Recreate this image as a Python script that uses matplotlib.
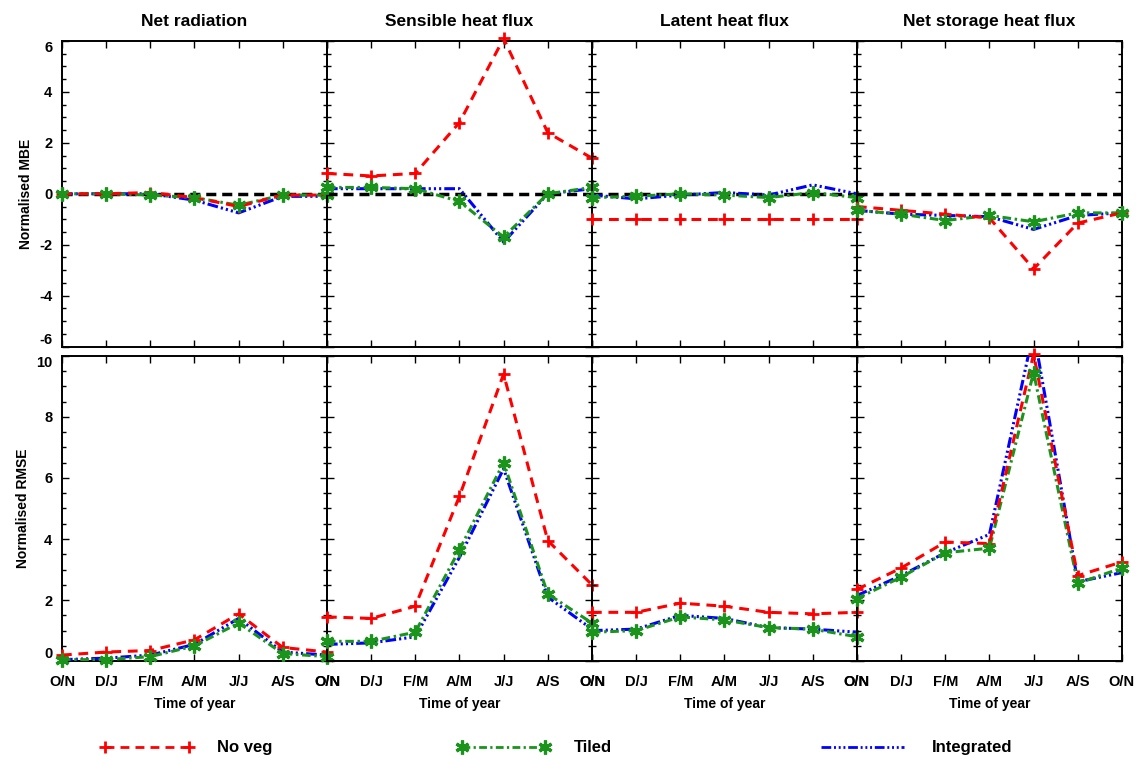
import numpy as np
import matplotlib
matplotlib.use('Agg')
import matplotlib.pyplot as plt
from matplotlib.ticker import MultipleLocator, FixedLocator
from matplotlib.lines import Line2D

plt.rcParams['font.family'] = ['Liberation Sans', 'DejaVu Sans']
plt.rcParams['font.weight'] = 'bold'
plt.rcParams['axes.unicode_minus'] = False

months = ['O/N', 'D/J', 'F/M', 'A/M', 'J/J', 'A/S', 'O/N']
titles = ['Net radiation', 'Sensible heat flux', 'Latent heat flux', 'Net storage heat flux']
series_names = ['No veg', 'Tiled', 'Integrated']

# normalised MBE, one list per panel
noveg_mbe = [
    [0.0, 0.0, 0.05, -0.15, -0.5, -0.05, -0.05],
    [0.8, 0.7, 0.8, 2.8, 6.1, 2.4, 1.4],
    [-1.0, -1.0, -1.0, -1.0, -1.0, -1.0, -1.0],
    [-0.5, -0.65, -0.8, -0.95, -2.95, -1.15, -0.75],
]
tiled_mbe = [
    [0.0, 0.0, -0.05, -0.15, -0.45, -0.05, -0.05],
    [0.25, 0.25, 0.2, -0.3, -1.7, 0.0, 0.25],
    [-0.15, -0.1, 0.0, -0.05, -0.15, 0.05, -0.15],
    [-0.65, -0.8, -1.05, -0.85, -1.1, -0.75, -0.75],
]
integ_mbe = [
    [0.0, 0.0, 0.0, -0.25, -0.75, -0.1, -0.1],
    [0.2, 0.2, 0.2, 0.2, -1.9, 0.0, 0.2],
    [-0.05, -0.2, -0.05, 0.05, -0.05, 0.35, 0.0],
    [-0.65, -0.8, -0.85, -0.9, -1.4, -0.85, -0.75],
]

# normalised RMSE
noveg_rmse = [
    [0.2, 0.3, 0.35, 0.7, 1.55, 0.45, 0.3],
    [1.45, 1.4, 1.8, 5.4, 9.4, 3.95, 2.5],
    [1.6, 1.6, 1.9, 1.8, 1.6, 1.55, 1.6],
    [2.35, 3.05, 3.9, 3.85, 10.05, 2.8, 3.25],
]
tiled_rmse = [
    [0.05, 0.05, 0.15, 0.5, 1.25, 0.25, 0.15],
    [0.65, 0.65, 0.95, 3.65, 6.5, 2.2, 1.25],
    [0.95, 1.0, 1.45, 1.35, 1.1, 1.05, 0.8],
    [2.05, 2.75, 3.55, 3.7, 9.45, 2.55, 3.05],
]
integ_rmse = [
    [0.05, 0.1, 0.2, 0.55, 1.4, 0.3, 0.2],
    [0.55, 0.6, 0.8, 3.4, 6.3, 2.1, 1.05],
    [1.0, 1.05, 1.5, 1.4, 1.1, 1.05, 0.95],
    [2.15, 2.8, 3.55, 4.15, 10.8, 2.6, 2.9],
]

red = '#ff0000'
green = '#1a941a'
blue = '#0000ff'
styles = [
    dict(color=red, ls=(0, (3.2, 2.2)), marker='+', ms=9, mew=2),
    dict(color=green, ls=(0, (2.8, 1.2, 0.8, 1.2)), marker=(6, 2, 0), ms=10, mew=2.3),
    dict(color=blue, ls=(0, (3.5, 1, 0.7, 1, 0.7, 1, 0.7, 1)), marker=None, ms=0, mew=0),
]

fig, axes = plt.subplots(2, 4, figsize=(11.39, 7.60), dpi=100)
fig.subplots_adjust(left=0.0544, right=0.985, top=0.946, bottom=0.130,
                    wspace=0, hspace=0.03)

x = np.arange(len(months))
rows = [[noveg_mbe, tiled_mbe, integ_mbe], [noveg_rmse, tiled_rmse, integ_rmse]]

for r in range(2):
    for c in range(4):
        ax = axes[r, c]
        ax.set_facecolor('none')
        if r == 0:
            ax.axhline(0, color='black', lw=2.5, ls=(0, (2.9, 1.7)), zorder=1)
        for s, data in enumerate(rows[r]):
            st = styles[s]
            ax.plot(x, data[c], color=st['color'], ls=st['ls'], lw=2.2, zorder=3 - s * 0.1)
            if st['marker'] is not None:
                ax.plot(x, data[c], ls='none', color=st['color'], marker=st['marker'],
                        ms=st['ms'], mew=st['mew'], clip_on=False, zorder=4)
        ax.set_xlim(0, 6)
        ax.xaxis.set_major_locator(FixedLocator(x))
        if r == 0:
            ax.set_ylim(-6, 6)
            ax.set_yticks(range(-6, 7, 2))
            ax.set_title(titles[c], fontsize=12.5, fontweight='bold', pad=11)
        else:
            ax.set_ylim(0, 10)
            ax.set_yticks(range(0, 11, 2))
            ax.set_xticklabels(months)
            ax.set_xlabel('Time of year', fontsize=10, fontweight='bold', labelpad=6)
        ax.yaxis.set_minor_locator(MultipleLocator(0.5))
        ax.tick_params(which='both', direction='in', top=True, right=True, width=1)
        ax.tick_params(which='major', length=5, labelsize=10.5, pad=7)
        ax.tick_params(which='minor', length=3)
        ax.tick_params(axis='x', pad=10)
        ax.tick_params(labelleft=(c == 0), labelbottom=(r == 1))
        for sp in ax.spines.values():
            sp.set_linewidth(1.4)
        if c == 0:
            # end labels nudged inside the panel, as in the original
            ylabs = ax.get_yticklabels()
            ylabs[0].set_verticalalignment('bottom')
            ylabs[-1].set_verticalalignment('top')

axes[0, 0].set_ylabel('Normalised MBE', fontsize=10, fontweight='bold', labelpad=4)
axes[1, 0].set_ylabel('Normalised RMSE', fontsize=10, fontweight='bold', labelpad=4)

# legend, one entry per block along the bottom
leg_x = [0.088, 0.401, 0.716]
for s in range(3):
    st = styles[s]
    h = Line2D([0], [0], color=st['color'], ls=st['ls'], lw=2,
               marker=st['marker'] if st['marker'] is not None else '',
               ms=st['ms'], mew=st['mew'])
    fig.legend([h], [series_names[s]], loc='center left', bbox_to_anchor=(leg_x[s], 0.016),
               frameon=False, handlelength=5.6, handletextpad=1.4, numpoints=2,
               borderaxespad=0, borderpad=0, prop={'size': 12, 'weight': 'bold'})

fig.savefig('out.png', dpi=100)
